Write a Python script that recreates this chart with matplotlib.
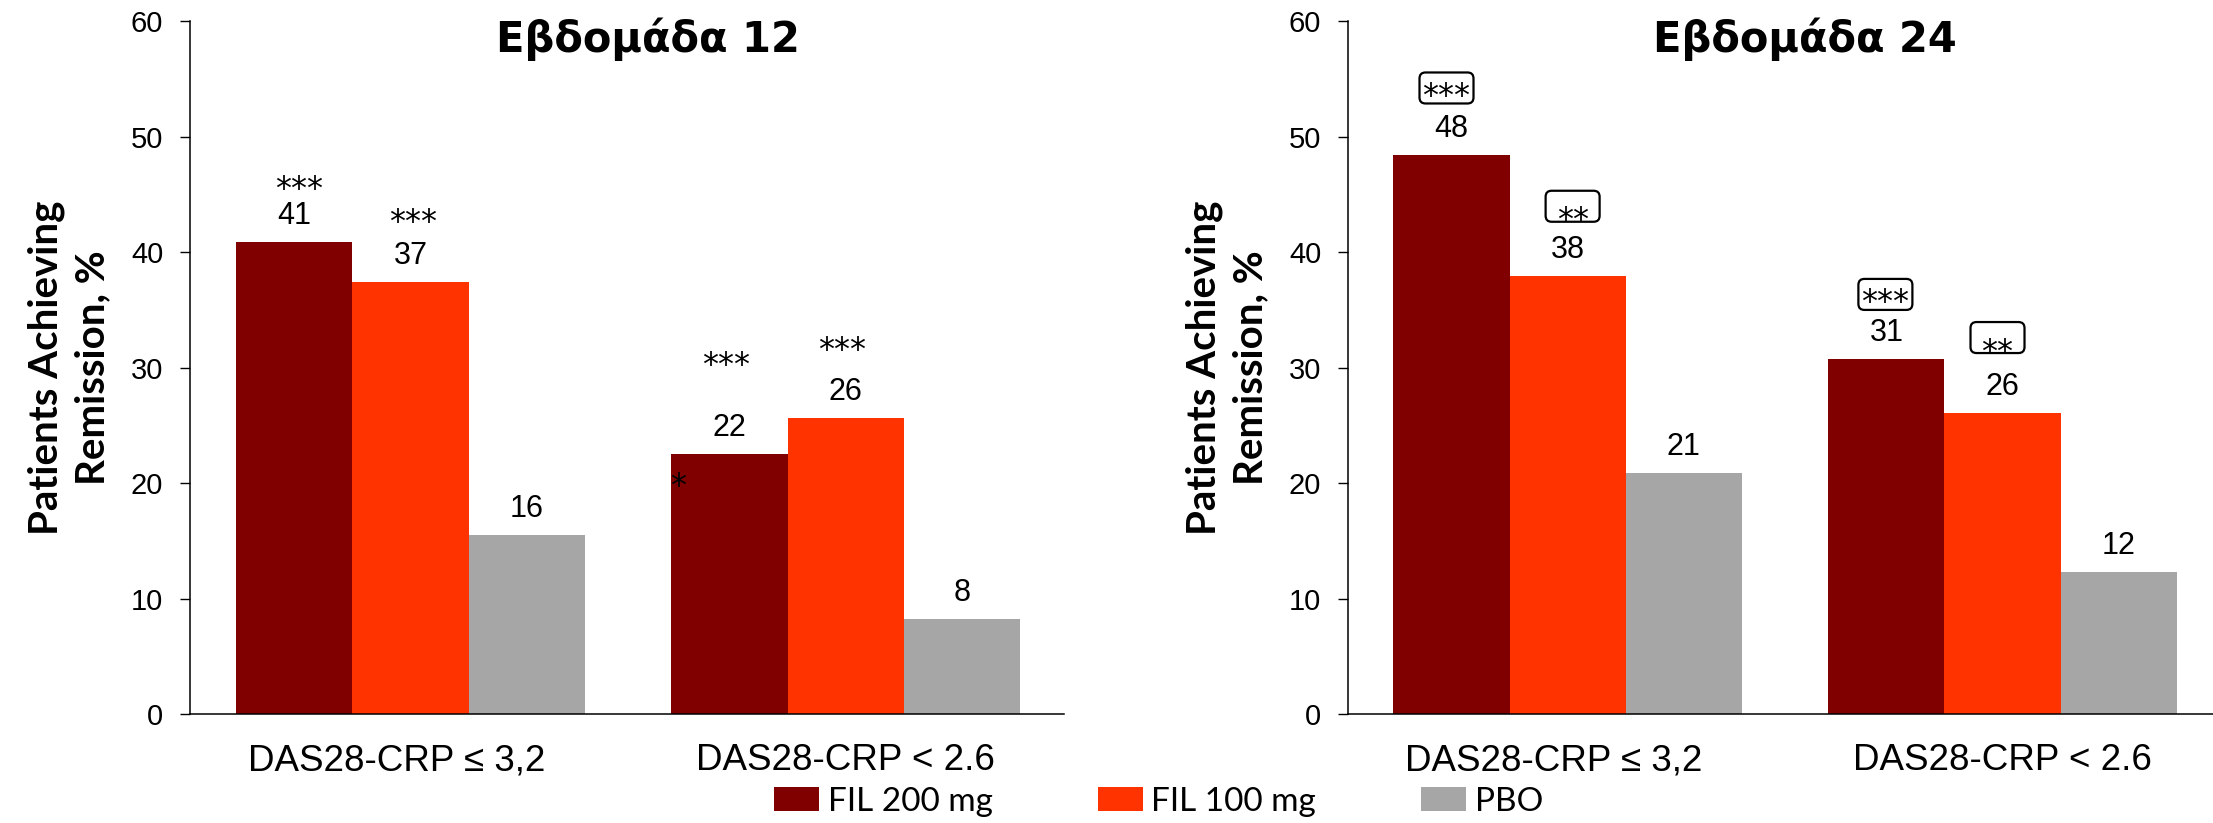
import matplotlib
matplotlib.use("Agg")
import matplotlib.pyplot as plt
from matplotlib.patches import FancyBboxPatch, Patch
from matplotlib.transforms import ScaledTranslation, IdentityTransform
import numpy as np

# ---------------- data ----------------
categories = ["DAS28-CRP ≤ 3,2", "DAS28-CRP < 2.6"]
series_names = ["FIL 200 mg", "FIL 100 mg", "PBO"]
titles = ["Εβδομάδα 12", "Εβδομάδα 24"]
ylabel_text = "Patients Achieving\nRemission, %"
y_ticks = [0, 10, 20, 30, 40, 50, 60]

week12_fil200 = [40.9, 22.5]
week12_fil100 = [37.4, 25.6]
week12_pbo = [15.5, 8.2]
week24_fil200 = [48.4, 30.7]
week24_fil100 = [37.9, 26.1]
week24_pbo = [20.9, 12.3]

week12_labels = [["41", "22"], ["37", "26"], ["16", "8"]]
week24_labels = [["48", "31"], ["38", "26"], ["21", "12"]]
week12_stars = [["***", "***"], ["***", "***"], ["", ""]]
week24_stars = [["***", "***"], ["**", "**"], ["", ""]]

# ---------------- style / layout ----------------
colors = ["#800000", "#FF3300", "#A6A6A6"]
W, H = 2213, 823
fig = plt.figure(figsize=(W / 100, H / 100), dpi=100)

bar_w = 0.267
offsets = [-bar_w, 0.0, bar_w]
NUM_FONT = "Liberation Sans"
STAR_FONT = "DejaVu Sans"

# star centre offsets (px above bar top) and x shifts, per series/group
w12_star_dy = [[61, 97], [68, 76]]
w12_star_dx = [[5, -3], [2, -4]]
w24_box_dy = [[67, 65], [70, 75]]
w24_box_dx = [[-5, -1], [5, -5]]
box_w, box_h = 54, 31
xlabel_shift = [-0.032, 0.0]  # horizontal shift of the category labels (category units)

panels = [
    dict(rect=[190 / W, 1 - 714 / H, 874 / W, 693 / H], xlim=(-0.507, 1.502),
         data=[week12_fil200, week12_fil100, week12_pbo], labels=week12_labels,
         stars=week12_stars, boxed=False, title=titles[0], tx=0.524),
    dict(rect=[1348 / W, 1 - 714 / H, 865 / W, 693 / H], xlim=(-0.505, 1.484),
         data=[week24_fil200, week24_fil100, week24_pbo], labels=week24_labels,
         stars=week24_stars, boxed=True, title=titles[1], tx=0.528),
]

x = np.arange(len(categories))

for p in panels:
    ax = fig.add_axes(p["rect"])
    for si, vals in enumerate(p["data"]):
        ax.bar(x + offsets[si], vals, bar_w, color=colors[si], linewidth=0,
               label=series_names[si])
        for gi, v in enumerate(vals):
            xc = x[gi] + offsets[si]
            ax.annotate(p["labels"][si][gi], xy=(xc, v), xytext=(0, 18),
                        textcoords="offset pixels", ha="center", va="baseline",
                        fontsize=22, family=NUM_FONT, color="black")
            s = p["stars"][si][gi]
            if not s:
                continue
            if p["boxed"]:
                bdy = w24_box_dy[si][gi]
                bdx = w24_box_dx[si][gi]
                tr = IdentityTransform() + ScaledTranslation(xc, v, ax.transData)
                box = FancyBboxPatch((bdx - box_w / 2, bdy - box_h / 2), box_w, box_h,
                                     boxstyle="round,pad=0,rounding_size=6",
                                     fc="white", ec="black", lw=1.6,
                                     transform=tr, clip_on=False, zorder=4)
                ax.add_patch(box)
                sdy = bdy if len(s) == 3 else bdy - 6
                ax.annotate(s, xy=(xc, v), xytext=(bdx, sdy - 17),
                            textcoords="offset pixels", ha="center", va="baseline",
                            fontsize=23, family=STAR_FONT, zorder=5)
            else:
                ax.annotate(s, xy=(xc, v), xytext=(w12_star_dx[si][gi], w12_star_dy[si][gi] - 17),
                            textcoords="offset pixels", ha="center", va="baseline",
                            fontsize=23, family=STAR_FONT)

    if not p["boxed"]:
        # lone asterisk at the left edge of the FIL 200 mg bar, second group
        v = week12_fil200[1]
        ax.annotate("*", xy=(x[1] + offsets[0] - bar_w / 2, v), xytext=(7, -41),
                    textcoords="offset pixels", ha="center", va="baseline",
                    fontsize=23, family=STAR_FONT)

    ax.set_xlim(*p["xlim"])
    ax.set_ylim(0, 60)
    ax.set_yticks(y_ticks)
    ax.set_yticklabels([str(t) for t in y_ticks], family=NUM_FONT, fontsize=21)
    ax.set_xticks(x + np.array(xlabel_shift))
    ax.set_xticklabels(categories, family=NUM_FONT, fontsize=26.5)
    ax.tick_params(axis="x", length=0, pad=21)
    ax.tick_params(axis="y", length=7.2, width=1.0, pad=12, direction="out")
    for sp in ["top", "right"]:
        ax.spines[sp].set_visible(False)
    for sp in ["left", "bottom"]:
        ax.spines[sp].set_linewidth(1.1)
        ax.spines[sp].set_color("black")

    ax.text(p["tx"], (714 - 52) / 693, p["title"], transform=ax.transAxes,
            ha="center", va="baseline", fontsize=30, fontweight="bold",
            family="DejaVu Sans")
    axw = p["rect"][2] * W
    ax.text(-121 / axw, 0.5, ylabel_text, transform=ax.transAxes, rotation=90,
            ha="center", va="center", multialignment="center", fontsize=29,
            fontweight="bold", family="Lato", linespacing=1.3)

handles = [Patch(facecolor=c, edgecolor="none") for c in colors]
fig.legend(handles, series_names, loc="center left",
           bbox_to_anchor=(774 / W, 1 - 802 / H), ncol=3, frameon=False,
           prop={"family": "Lato", "size": 24}, handlelength=1.36,
           handleheight=0.73, handletextpad=0.25, columnspacing=3.15,
           borderpad=0, borderaxespad=0)

fig.savefig("out.png", dpi=100)
